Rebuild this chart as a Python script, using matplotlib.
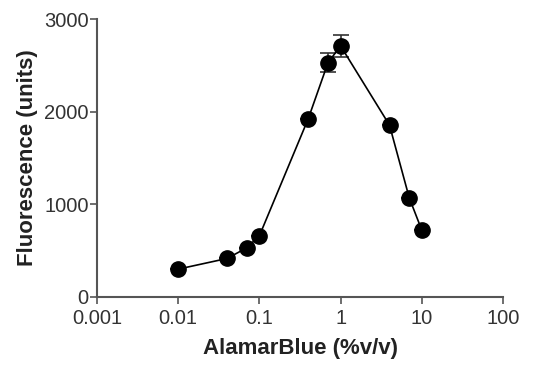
import matplotlib
matplotlib.use("Agg")
import matplotlib.pyplot as plt

# AlamarBlue concentration vs fluorescence
conc = [0.01, 0.04, 0.07, 0.1, 0.4, 0.7, 1.0, 4.0, 7.0, 10.0]
fluor = [300, 415, 530, 660, 1925, 2530, 2710, 1855, 1070, 720]
err = [0, 0, 0, 0, 0, 100, 115, 0, 0, 0]

xticks = [0.001, 0.01, 0.1, 1, 10, 100]
xticklabels = ["0.001", "0.01", "0.1", "1", "10", "100"]
yticks = [0, 1000, 2000, 3000]

plt.rcParams['font.family'] = ['Liberation Sans', 'DejaVu Sans']

fig = plt.figure(figsize=(5.34, 3.67), dpi=100)
ax = fig.add_axes([0.1816, 0.191, 0.7604, 0.757])

axis_col = "#555555"
ax.errorbar(conc, fluor, yerr=err, fmt="o-", color="black", ecolor="#333333",
            markersize=11, linewidth=1.2, elinewidth=1.2, capsize=6, capthick=1.2)

ax.set_xscale("log")
ax.set_xlim(0.001, 100)
ax.set_ylim(0, 3000)
ax.set_xticks(xticks)
ax.set_xticklabels(xticklabels)
ax.set_yticks(yticks)
ax.minorticks_off()

for side in ("top", "right"):
    ax.spines[side].set_visible(False)
for side in ("left", "bottom"):
    ax.spines[side].set_color(axis_col)
    ax.spines[side].set_linewidth(1.5)
ax.tick_params(axis="both", colors=axis_col, length=5, width=1.2, labelsize=14.5,
               labelcolor="#333333")
ax.tick_params(axis="x", pad=4)
ax.tick_params(axis="y", pad=1)

ax.set_xlabel("AlamarBlue (%v/v)", fontsize=16, fontweight="bold", color="#222222", labelpad=7)
ax.set_ylabel("Fluorescence (units)", fontsize=16, fontweight="bold", color="#222222", labelpad=4)

fig.savefig("out.png", dpi=100)
